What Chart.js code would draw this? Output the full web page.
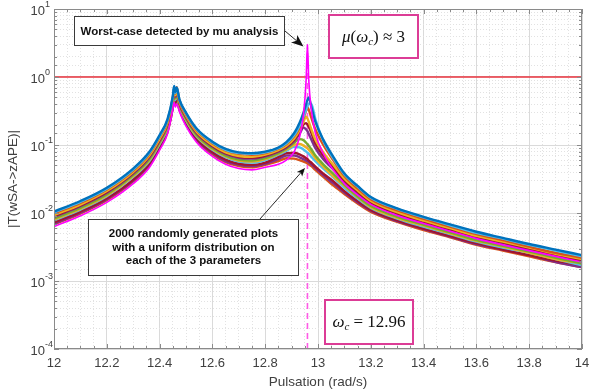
<!DOCTYPE html>
<html>
<head>
<meta charset="utf-8">
<script src="https://cdn.jsdelivr.net/npm/chart.js@4"></script>
<style>
  html, body { margin: 0; padding: 0; background: #fff; }
</style>
</head>
<body>
<canvas id="bodeChart" width="589" height="392"></canvas>
<script>
// frequency grid (rad/s)
const pulsation = [12.0, 12.1, 12.2, 12.3, 12.36, 12.4, 12.43, 12.45, 12.455, 12.46, 12.465, 12.475, 12.5, 12.54, 12.6, 12.65, 12.7, 12.75, 12.8,
  12.85, 12.88, 12.91, 12.93, 12.945, 12.955, 12.96, 12.965, 12.975, 12.99, 13.02, 13.06, 13.1, 13.15,
  13.2, 13.3, 13.4, 13.5, 13.6, 13.7, 13.8, 13.9, 14.0];

// worst case found by mu analysis
const worstCase = [0.0063, 0.0091, 0.0143, 0.027, 0.046, 0.084, 0.146, 0.33, 0.42, 0.36, 0.40, 0.31, 0.19, 0.110, 0.068, 0.052, 0.045, 0.043, 0.047,
  0.052, 0.060, 0.080, 0.13, 0.28, 0.9, 3.0, 0.9, 0.32, 0.15, 0.075, 0.042, 0.027, 0.0185,
  0.0134, 0.0092, 0.0070, 0.0054, 0.0042, 0.0034, 0.0028, 0.0023, 0.0019];

// some of the 2000 random runs, top of the band to bottom
const run1 = [0.0105, 0.0150, 0.0235, 0.045, 0.078, 0.14, 0.24, 0.52, 0.74, 0.60, 0.70, 0.47, 0.30, 0.175, 0.112, 0.088, 0.078, 0.076, 0.080,
  0.092, 0.11, 0.15, 0.21, 0.30, 0.40, 0.46, 0.50, 0.36, 0.22, 0.12, 0.065, 0.038, 0.025,
  0.0172, 0.0117, 0.0088, 0.0068, 0.0053, 0.0043, 0.0035, 0.0029, 0.0024];
const run2 = [0.0102, 0.0146, 0.0228, 0.0435, 0.0755, 0.135, 0.232, 0.50, 0.71, 0.58, 0.68, 0.46, 0.292, 0.170, 0.109, 0.085, 0.076, 0.074, 0.078,
  0.090, 0.106, 0.14, 0.19, 0.26, 0.33, 0.37, 0.41, 0.40, 0.24, 0.115, 0.062, 0.037, 0.0245,
  0.0168, 0.0115, 0.0086, 0.0066, 0.0051, 0.0042, 0.0034, 0.0028, 0.0023];
const run3 = [0.0099, 0.0141, 0.0222, 0.042, 0.073, 0.131, 0.225, 0.49, 0.68, 0.57, 0.71, 0.45, 0.285, 0.166, 0.106, 0.083, 0.074, 0.072, 0.076,
  0.088, 0.103, 0.135, 0.18, 0.25, 0.32, 0.36, 0.33, 0.25, 0.17, 0.10, 0.058, 0.035, 0.023,
  0.0160, 0.0109, 0.0082, 0.0063, 0.0049, 0.0040, 0.0032, 0.0026, 0.0022];
const run4 = [0.0093, 0.0133, 0.0210, 0.040, 0.069, 0.123, 0.212, 0.46, 0.65, 0.54, 0.63, 0.43, 0.27, 0.157, 0.100, 0.078, 0.069, 0.067, 0.072,
  0.084, 0.097, 0.125, 0.165, 0.22, 0.26, 0.245, 0.22, 0.17, 0.12, 0.078, 0.05, 0.032, 0.0215,
  0.0150, 0.0103, 0.0077, 0.0060, 0.0046, 0.0038, 0.0031, 0.0025, 0.0021];
const run5 = [0.0090, 0.0129, 0.0204, 0.039, 0.067, 0.119, 0.206, 0.45, 0.62, 0.53, 0.60, 0.42, 0.263, 0.153, 0.097, 0.076, 0.067, 0.065, 0.070,
  0.082, 0.094, 0.12, 0.155, 0.20, 0.21, 0.20, 0.185, 0.15, 0.105, 0.07, 0.046, 0.030, 0.0205,
  0.0144, 0.0099, 0.0075, 0.0058, 0.0045, 0.0037, 0.0030, 0.0024, 0.0020];
const run6 = [0.0088, 0.0126, 0.0198, 0.038, 0.065, 0.116, 0.200, 0.44, 0.58, 0.51, 0.62, 0.41, 0.256, 0.149, 0.095, 0.074, 0.065, 0.063, 0.068,
  0.080, 0.092, 0.115, 0.145, 0.18, 0.17, 0.16, 0.145, 0.12, 0.09, 0.062, 0.043, 0.029, 0.0195,
  0.0140, 0.0097, 0.0073, 0.0057, 0.0044, 0.0036, 0.0029, 0.0024, 0.0020];
const run7 = [0.0083, 0.0119, 0.0187, 0.036, 0.061, 0.110, 0.189, 0.42, 0.58, 0.49, 0.55, 0.39, 0.243, 0.141, 0.090, 0.070, 0.061, 0.059, 0.064,
  0.076, 0.088, 0.108, 0.122, 0.118, 0.108, 0.103, 0.097, 0.086, 0.07, 0.052, 0.037, 0.026, 0.0175,
  0.0127, 0.0088, 0.0067, 0.0052, 0.0040, 0.0033, 0.0027, 0.0022, 0.0018];
const run8 = [0.0080, 0.0115, 0.0181, 0.035, 0.059, 0.106, 0.183, 0.40, 0.55, 0.48, 0.55, 0.38, 0.236, 0.137, 0.087, 0.068, 0.059, 0.057, 0.062,
  0.074, 0.085, 0.10, 0.104, 0.098, 0.092, 0.089, 0.085, 0.077, 0.064, 0.048, 0.034, 0.025, 0.017,
  0.0122, 0.0085, 0.0065, 0.0050, 0.0039, 0.0032, 0.0026, 0.0021, 0.0018];
const run9 = [0.0078, 0.0112, 0.0176, 0.034, 0.057, 0.103, 0.178, 0.39, 0.52, 0.46, 0.54, 0.37, 0.230, 0.133, 0.085, 0.066, 0.057, 0.055, 0.060,
  0.072, 0.082, 0.094, 0.092, 0.086, 0.08, 0.077, 0.074, 0.067, 0.058, 0.045, 0.033, 0.0235, 0.0163,
  0.0119, 0.0083, 0.0063, 0.0049, 0.0038, 0.0031, 0.0026, 0.0021, 0.0017];
const run10 = [0.0073, 0.0105, 0.0165, 0.031, 0.053, 0.096, 0.167, 0.37, 0.50, 0.43, 0.48, 0.35, 0.217, 0.125, 0.079, 0.061, 0.053, 0.051, 0.055,
  0.067, 0.076, 0.077, 0.073, 0.068, 0.064, 0.062, 0.059, 0.055, 0.048, 0.038, 0.029, 0.021, 0.015,
  0.0111, 0.0078, 0.0059, 0.0046, 0.0036, 0.0029, 0.0024, 0.0020, 0.0017];
const run11 = [0.0070, 0.0101, 0.0160, 0.030, 0.051, 0.092, 0.161, 0.36, 0.48, 0.42, 0.47, 0.34, 0.210, 0.121, 0.076, 0.058, 0.051, 0.049, 0.053,
  0.062, 0.07, 0.07, 0.066, 0.062, 0.059, 0.058, 0.056, 0.052, 0.046, 0.036, 0.027, 0.020, 0.0144,
  0.0108, 0.0076, 0.0058, 0.0045, 0.0035, 0.0029, 0.0024, 0.0019, 0.0016];
const run12 = [0.0068, 0.0098, 0.0154, 0.029, 0.049, 0.089, 0.156, 0.35, 0.46, 0.40, 0.47, 0.33, 0.204, 0.117, 0.073, 0.056, 0.049, 0.047, 0.051,
  0.058, 0.064, 0.063, 0.060, 0.057, 0.055, 0.054, 0.052, 0.049, 0.043, 0.034, 0.025, 0.019, 0.0138,
  0.0104, 0.0074, 0.0056, 0.0044, 0.0034, 0.0028, 0.0023, 0.0019, 0.0016];

const runs = [run1, run2, run3, run4, run5, run6, run7, run8, run9, run10, run11, run12];
const runColors = ["#0072BD", "#4DBEEE", "#D95319", "#EDB120", "#A2142F", "#7E2F8E", "#77AC30",
  "#EDB120", "#4DBEEE", "#A2142F", "#7E2F8E", "#D95319"];

const xTickLabels = [12, 12.2, 12.4, 12.6, 12.8, 13, 13.2, 13.4, 13.6, 13.8, 14];
const yTickExponents = [-4, -3, -2, -1, 0, 1];
const threshold = 1;
const omegaC = 12.96;
const muPeak = 3;

const toPoints = (ys) => ys.map((y, i) => ({ x: pulsation[i], y: y }));

let datasets = [
  {
    data: toPoints(worstCase),
    borderColor: "#FF00FF",
    borderWidth: 1.6,
  },
];
runs.forEach((r, i) => {
  datasets.push({
    data: toPoints(r),
    borderColor: runColors[i],
    borderWidth: 2.4,
  });
});

function isDecade(v) {
  const l = Math.log10(v);
  return Math.abs(l - Math.round(l)) < 1e-9;
}
function isMajorX(v) {
  return Math.abs(v * 5 - Math.round(v * 5)) < 1e-6;
}

function drawArrow(ctx, x1, y1, x2, y2, head, spread) {
  const a = Math.atan2(y2 - y1, x2 - x1);
  ctx.beginPath();
  ctx.moveTo(x1, y1);
  ctx.lineTo(x2 - Math.cos(a) * head * 0.7, y2 - Math.sin(a) * head * 0.7);
  ctx.stroke();
  ctx.beginPath();
  ctx.moveTo(x2, y2);
  ctx.lineTo(x2 - head * Math.cos(a - spread), y2 - head * Math.sin(a - spread));
  ctx.lineTo(x2 - head * 0.7 * Math.cos(a), y2 - head * 0.7 * Math.sin(a));
  ctx.lineTo(x2 - head * Math.cos(a + spread), y2 - head * Math.sin(a + spread));
  ctx.closePath();
  ctx.fill();
}

// pieces of math text: [text, font, dy]
function drawMath(ctx, parts, cx, baseline) {
  let total = 0;
  let widths = parts.map((p) => {
    ctx.font = p[1];
    return ctx.measureText(p[0]).width;
  });
  widths.forEach((w) => (total += w));
  let x = cx - total / 2;
  ctx.textAlign = "left";
  ctx.textBaseline = "alphabetic";
  parts.forEach((p, i) => {
    ctx.font = p[1];
    ctx.fillText(p[0], x, baseline + (p[2] || 0));
    x += widths[i];
  });
}

const sans = "'Liberation Sans', Arial, sans-serif";
const serif = "'Liberation Serif', 'Times New Roman', serif";
const pink = "rgb(220, 60, 150)";

const decorations = {
  id: "decorations",
  beforeDatasetsDraw(chart) {
    const { ctx, chartArea, scales } = chart;
    ctx.save();
    // |T| = 1 limit
    const yT = scales.y.getPixelForValue(threshold);
    ctx.strokeStyle = "#E8323C";
    ctx.lineWidth = 1.6;
    ctx.beginPath();
    ctx.moveTo(chartArea.left, yT);
    ctx.lineTo(chartArea.right, yT);
    ctx.stroke();
    // critical pulsation
    const xc = scales.x.getPixelForValue(omegaC);
    ctx.strokeStyle = "#FF5AE6";
    ctx.lineWidth = 1.6;
    ctx.setLineDash([6, 4]);
    ctx.beginPath();
    ctx.moveTo(xc, chartArea.bottom);
    ctx.lineTo(xc, scales.y.getPixelForValue(muPeak));
    ctx.stroke();
    ctx.restore();
  },
  afterDraw(chart) {
    const { ctx, chartArea, scales } = chart;
    const { left, right, top, bottom } = chartArea;
    ctx.save();

    // axes box
    ctx.strokeStyle = "#8a8a8a";
    ctx.lineWidth = 1;
    ctx.strokeRect(left + 0.5, top + 0.5, right - left - 1, bottom - top - 1);

    // inward tick marks
    ctx.beginPath();
    scales.x.ticks.forEach((t) => {
      const x = Math.round(scales.x.getPixelForValue(t.value)) + 0.5;
      const len = isMajorX(t.value) ? 5 : 3;
      ctx.moveTo(x, bottom);
      ctx.lineTo(x, bottom - len);
      ctx.moveTo(x, top);
      ctx.lineTo(x, top + len);
    });
    scales.y.ticks.forEach((t) => {
      const y = Math.round(scales.y.getPixelForValue(t.value)) + 0.5;
      const len = isDecade(t.value) ? 5 : 3;
      ctx.moveTo(left, y);
      ctx.lineTo(left + len, y);
      ctx.moveTo(right, y);
      ctx.lineTo(right - len, y);
    });
    ctx.stroke();

    // tick labels
    ctx.fillStyle = "#404040";
    ctx.font = "13px " + sans;
    ctx.textAlign = "center";
    ctx.textBaseline = "middle";
    xTickLabels.forEach((v) => {
      ctx.fillText(String(v), scales.x.getPixelForValue(v), bottom + 14);
    });
    yTickExponents.forEach((e) => {
      const y = scales.y.getPixelForValue(Math.pow(10, e));
      ctx.font = "13px " + sans;
      ctx.textAlign = "right";
      ctx.fillText("10", left - 9, y + 2);
      ctx.font = "9px " + sans;
      ctx.textAlign = "left";
      ctx.fillText(e < 0 ? "-" + -e : String(e), left - 9, y - 4);
    });

    // axis titles
    ctx.font = "13.5px " + sans;
    ctx.textAlign = "center";
    ctx.fillText("Pulsation (rad/s)", (left + right) / 2, bottom + 33);
    ctx.save();
    ctx.translate(13, (top + bottom) / 2);
    ctx.rotate(-Math.PI / 2);
    ctx.fillText("|T(wSA->zAPE)|", 0, 0);
    ctx.restore();

    // text boxes
    ctx.lineWidth = 1;
    ctx.strokeStyle = "#3a3a3a";
    ctx.fillStyle = "#fff";
    ctx.fillRect(74.5, 16.5, 210, 29);
    ctx.strokeRect(74.5, 16.5, 210, 29);
    ctx.fillRect(88.5, 219.5, 210, 56);
    ctx.strokeRect(88.5, 219.5, 210, 56);

    ctx.fillStyle = "#111";
    ctx.font = "bold 11.5px " + sans;
    ctx.textAlign = "center";
    ctx.textBaseline = "middle";
    ctx.fillText("Worst-case detected by mu analysis", 179.5, 31.5);
    ctx.fillText("2000 randomly generated plots", 193.5, 234);
    ctx.fillText("with a uniform distribution on", 193.5, 247.5);
    ctx.fillText("each of the 3 parameters", 193.5, 261);

    // arrows
    ctx.strokeStyle = "#111";
    ctx.fillStyle = "#111";
    ctx.lineWidth = 0.9;
    const xc = scales.x.getPixelForValue(omegaC);
    const yPeak = scales.y.getPixelForValue(muPeak);
    drawArrow(ctx, 285, 31, xc - 4, yPeak + 2, 13, 0.38);
    drawArrow(ctx, 260, 219, 305, 168, 9, 0.4);

    // math boxes
    ctx.lineWidth = 2;
    ctx.strokeStyle = pink;
    ctx.fillStyle = "#fff";
    ctx.fillRect(329, 15, 89, 43);
    ctx.strokeRect(329, 15, 89, 43);
    ctx.fillRect(325, 300, 88, 44);
    ctx.strokeRect(325, 300, 88, 44);

    ctx.fillStyle = "#111";
    const it = "italic 17px " + serif;
    const up = "17px " + serif;
    const sub = "italic 11px " + serif;
    drawMath(ctx, [["\u03bc", it], ["(", up], ["\u03c9", it], ["c", sub, 3], [")", up], [" \u2248 3", up]], 373.5, 42);
    drawMath(ctx, [["\u03c9", it], ["c", sub, 3], [" = 12.96", up]], 369, 327);

    ctx.restore();
  },
};

new Chart(document.getElementById("bodeChart"), {
  type: "line",
  data: { datasets: datasets },
  plugins: [decorations],
  options: {
    responsive: false,
    animation: false,
    events: [],
    layout: { padding: { left: 0, right: 7, top: 9, bottom: 0 } },
    elements: {
      point: { radius: 0 },
      line: { cubicInterpolationMode: "monotone", fill: false },
    },
    scales: {
      x: {
        type: "linear",
        min: 12,
        max: 14,
        ticks: { display: false, stepSize: 0.05, autoSkip: false },
        grid: {
          drawTicks: false,
          color: (c) => (c.tick && isMajorX(c.tick.value) ? "#dadada" : "#e2e2e2"),
        },
        border: {
          display: false,
          dash: (c) => (c.tick && !isMajorX(c.tick.value) ? [1, 2] : []),
        },
        afterFit: (scale) => {
          scale.height = 43;
        },
      },
      y: {
        type: "logarithmic",
        min: 0.0001,
        max: 10,
        ticks: { display: false, autoSkip: false },
        grid: {
          drawTicks: false,
          color: (c) => (c.tick && isDecade(c.tick.value) ? "#dadada" : "#e2e2e2"),
        },
        border: {
          display: false,
          dash: (c) => (c.tick && !isDecade(c.tick.value) ? [1, 2] : []),
        },
        afterFit: (scale) => {
          scale.width = 54;
        },
      },
    },
    plugins: {
      legend: { display: false },
      tooltip: { enabled: false },
    },
  },
});
</script>
</body>
</html>
